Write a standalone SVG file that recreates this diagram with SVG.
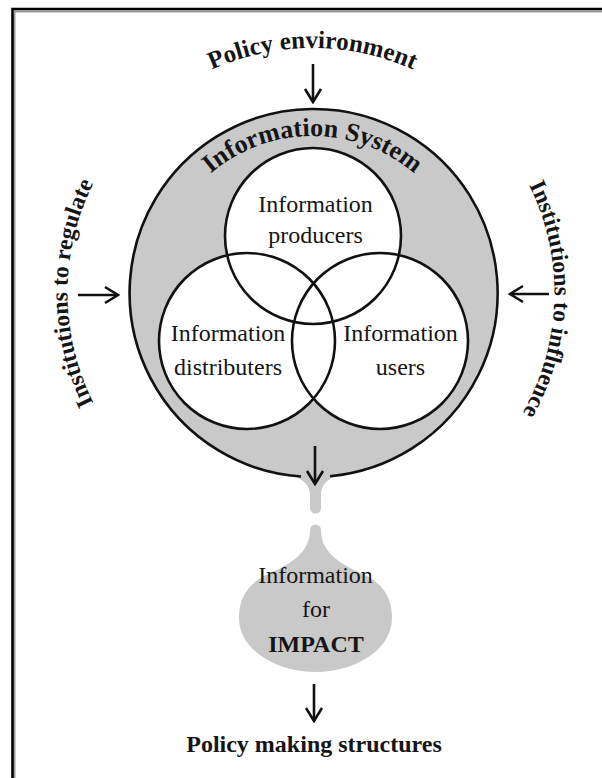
<svg xmlns="http://www.w3.org/2000/svg" width="602" height="778" viewBox="0 0 602 778">
  <style>
    .serif { font-family: "Liberation Serif", "Times New Roman", serif; fill: #151515; }
    .lbl { font-size: 24px; text-anchor: middle; }
    .bold { font-weight: bold; }
    .ring { fill: none; stroke: #111; stroke-width: 2.6; }
    .venn-fill { fill: #fff; stroke: none; }
    .arrow { fill: none; stroke: #111; stroke-width: 2.6; marker-end: url(#head); }
    .gray { fill: #c9c9c9; stroke: none; }
  </style>
  <defs>
    <marker id="head" markerUnits="userSpaceOnUse" viewBox="0 0 16 20" markerWidth="16" markerHeight="20" refX="14" refY="10" orient="auto">
      <path d="M1,2 L14,10 L1,18" fill="none" stroke="#111" stroke-width="2.6" stroke-linejoin="miter"/>
    </marker>
    <!-- label arcs, concentric with the system circle -->
    <path id="arcTop" d="M67.5,293 A245,245 0 0 1 557.5,293"/>
    <path id="arcLeft" d="M312.5,538 A245,245 0 0 1 312.5,48"/>
    <path id="arcRight" d="M312.5,51 A242,242 0 0 1 312.5,535"/>
    <path id="arcSystem" d="M155.5,293 A157,157 0 0 1 469.5,293"/>
  </defs>

  <rect width="602" height="778" fill="#fff"/>

  <!-- page frame -->
  <path d="M14.5,778 V11.5 H602" fill="none" stroke="#9a9a9a" stroke-width="2"/>
  <path d="M12.5,778 V9 H602" fill="none" stroke="#000" stroke-width="2.6"/>

  <!-- outer labels -->
  <text class="serif bold" font-size="25" text-anchor="middle"><textPath href="#arcTop" startOffset="50%">Policy environment</textPath></text>
  <text class="serif bold" font-size="23.5" text-anchor="middle"><textPath href="#arcLeft" startOffset="50%">Institutions to regulate</textPath></text>
  <text class="serif bold" font-size="23.5" text-anchor="middle"><textPath href="#arcRight" startOffset="50.9%">Institutions to influence</textPath></text>

  <!-- information system: grey disc with its drip -->
  <g id="information-system">
    <circle class="gray" cx="312.5" cy="293" r="184"/>
    <path class="gray" d="M280,470 C300,478 310,482 310,495 L310,508 A5.5,5.5 0 0 0 321,508 L321,495 C321,482 331,478 348,468 Z"/>
    <path class="ring" d="M301,476.5 A184,184 0 1 1 330,476.2"/>
    <text class="serif bold" font-size="26" text-anchor="middle"><textPath href="#arcSystem" startOffset="50%">Information System</textPath></text>
  </g>

  <!-- the three overlapping actor circles -->
  <g id="venn-fills">
    <circle class="venn-fill" cx="313" cy="236" r="88"/>
    <circle class="venn-fill" cx="247" cy="341" r="88"/>
    <circle class="venn-fill" cx="380" cy="341" r="88"/>
  </g>
  <g id="producers">
    <circle class="ring" cx="313" cy="236" r="88"/>
    <text class="serif lbl" x="315.5" y="212">Information</text>
    <text class="serif lbl" x="315.5" y="243">producers</text>
  </g>
  <g id="distributers">
    <circle class="ring" cx="247" cy="341" r="88"/>
    <text class="serif lbl" x="228" y="341">Information</text>
    <text class="serif lbl" x="228" y="375">distributers</text>
  </g>
  <g id="users">
    <circle class="ring" cx="380" cy="341" r="88"/>
    <text class="serif lbl" x="400.5" y="341">Information</text>
    <text class="serif lbl" x="400.5" y="375">users</text>
  </g>

  <!-- information for impact drop -->
  <g id="impact">
    <path class="gray" d="M310,530 A5.5,5.5 0 0 1 321,530 C321,555 345,566 365,575 C385,585 392,600 392,618 C392,650 355,672 315.5,672 C276,672 239,650 239,618 C239,600 246,585 266,575 C286,566 310,555 310,530 Z"/>
    <text class="serif lbl" x="315.5" y="583">Information</text>
    <text class="serif lbl" x="316" y="617">for</text>
    <text class="serif lbl bold" x="316" y="652">IMPACT</text>
  </g>

  <g id="policy-structures">
    <text class="serif lbl bold" x="314" y="752">Policy making structures</text>
  </g>

  <!-- connectors -->
  <g id="connectors">
    <path class="arrow" d="M313,64 V102"/>
    <path class="arrow" d="M78,295 H118"/>
    <path class="arrow" d="M549,294 H510"/>
    <path class="arrow" d="M315,446 V484"/>
    <path class="arrow" d="M314,684 V721"/>
  </g>
</svg>
